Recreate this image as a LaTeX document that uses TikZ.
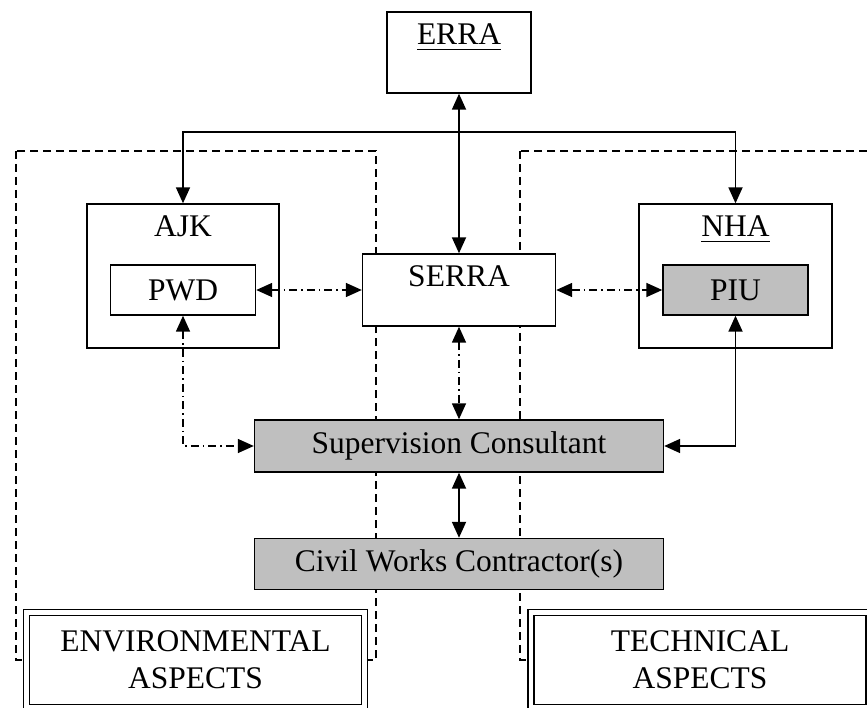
\documentclass[tikz,border=0pt]{standalone}
\usepackage{fontspec}
\setmainfont{Liberation Serif}
\usetikzlibrary{arrows.meta}
\newsavebox{\undlbox}
\newcommand{\undl}[1]{\sbox{\undlbox}{#1}\rlap{\rule[-6pt]{\wd\undlbox}{1.6pt}}\usebox{\undlbox}}
\tikzstyle{plainbox} = [
    rectangle, inner sep=0pt,
    draw=black, fill=white, line width=1.4pt
]
\tikzstyle{greybox} = [plainbox, fill=gray!50]
\tikzstyle{aspect} = [
    plainbox, double, double distance=4.4pt,
    minimum width=338pt, minimum height=95pt,
    align=center
]
\tikzstyle{toplabel} = [label={[anchor=base, yshift=-33pt]north:#1}]
\tikzstyle{region} = [line width=1.4pt, dash pattern=on 8pt off 5pt]
\tikzstyle{arrow} = [line width=1.8pt, ->, >={Triangle[length=16pt, width=14pt]}]
\tikzstyle{twoway} = [arrow, <->]
\tikzstyle{dotway} = [twoway, line width=1.5pt, dash pattern=on 8pt off 4pt on 1.5pt off 4pt]

\begin{document}
\begin{tikzpicture}[x=1pt, y=-1pt, node distance=118pt, font=\fontsize{31.5}{37}\selectfont]
        \useasboundingbox (0,0) rectangle (867,708);
        % Draw dashed regions
        \draw [region] (16,151) rectangle (376,660);
        \draw [region] (520,151) rectangle (880,660);

        % Draw blocks
        \node (erra) [plainbox, minimum width=144pt, minimum height=81pt, toplabel={\undl{ERRA}}] at (459,52.5) {};
        \node (serra) [plainbox, minimum width=193pt, minimum height=72pt, toplabel=SERRA, below of=erra, yshift=-119.5pt] {};
        \node (ajk) [plainbox, minimum width=192pt, minimum height=144pt, toplabel=AJK, left of=serra, xshift=-158pt, yshift=14pt] {};
        \node (nha) [plainbox, minimum width=193pt, minimum height=144pt, toplabel={\undl{NHA}}, right of=serra, xshift=158.5pt, yshift=14pt] {};
        \node (pwd) [plainbox, minimum width=145pt, minimum height=50pt, yshift=-14pt] at (ajk) {PWD};
        \node (piu) [greybox, minimum width=145pt, minimum height=50pt, yshift=-14pt] at (nha) {PIU};
        \node (sup) [greybox, minimum width=409pt, minimum height=52pt, below of=serra, yshift=-38pt] {Supervision Consultant};
        \node (civil) [greybox, minimum width=409pt, minimum height=51pt, below of=sup] {Civil Works Contractor(s)};
        \node (env) [aspect, left of=civil, xshift=-145.5pt, yshift=-96pt] {ENVIRONMENTAL\\ASPECTS};
        \node (tech) [aspect, right of=civil, xshift=123pt, yshift=-96pt] {TECHNICAL\\ASPECTS};
        \coordinate (fork) at (459,132);

        % Draw arrows
        \draw [twoway] (erra) -- (serra);
        \draw [arrow] (fork) -| (ajk);
        \draw [arrow] (fork) -| (nha);
        \draw [dotway] (pwd) -- (serra);
        \draw [dotway] (serra) -- (piu);
        \draw [dotway] (serra) -- (sup);
        \draw [dotway] (pwd) |- (sup);
        \draw [twoway] (piu) |- (sup);
        \draw [twoway] (sup) -- (civil);
    \end{tikzpicture}
\end{document}
